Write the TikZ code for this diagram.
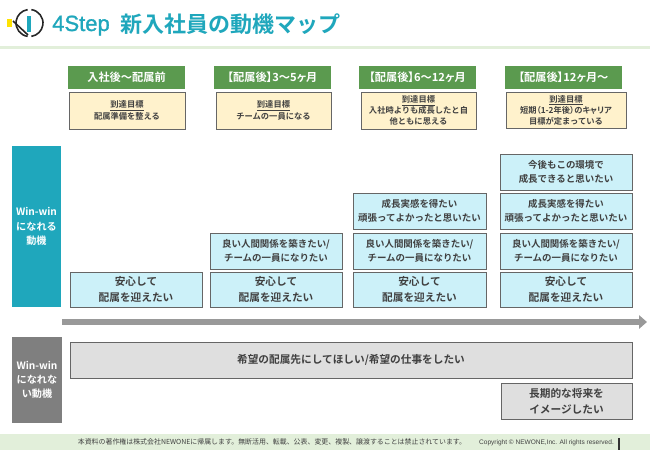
\documentclass[tikz,border=0pt]{standalone}
\usepackage{fontspec}
\setmainfont{Noto Sans CJK JP}[BoldFont={Noto Sans CJK JP Bold}]
\newfontfamily\latinfont{Liberation Sans}
\newfontfamily\ttlfont[FakeBold=1.2]{Liberation Sans}
\usetikzlibrary{arrows.meta}
\definecolor{tealc}{HTML}{1FA7BC}
\definecolor{headg}{HTML}{5B9A4F}
\definecolor{pale}{HTML}{E2EFDA}
\definecolor{yell}{HTML}{FFF2CC}
\definecolor{skyb}{HTML}{CCF1F9}
\definecolor{lgrey}{HTML}{DFDFDF}
\definecolor{mgrey}{HTML}{7F7F7F}
\definecolor{txt}{HTML}{404040}
\definecolor{edge}{HTML}{666666}
\newcommand\fsz[2]{\fontsize{#1}{#2}\selectfont}
\newcommand\pal{\addfontfeature{RawFeature=+palt}}
\newcommand\pbox[7]{\node[#2,minimum width={(#5-#3)*0.75pt},minimum height={(#6-#4)*0.75pt}] (#1) at ({(#3+#5)/2},{(#4+#6)/2}) {#7};}
\tikzset{
  basebox/.style={inner sep=0pt,outer sep=0pt,align=center,text=txt,font=\bfseries},
  headbox/.style={basebox,fill=headg,text=white,font=\bfseries\fsz{8.4}{10}},
  goalbox/.style={basebox,draw=edge,line width=0.75pt,fill=yell,font=\bfseries\fsz{6.2}{8.3}},
  goalwide/.style={goalbox,font=\bfseries\fsz{6.2}{9}},
  wantbig/.style={basebox,draw=edge,line width=0.75pt,fill=skyb,font=\bfseries\fsz{8}{11.4}},
  wantsmall/.style={basebox,draw=edge,line width=0.75pt,fill=skyb,font=\bfseries\fsz{7.1}{10.6}},
  greybox/.style={basebox,draw=edge,line width=0.75pt,fill=lgrey,font=\bfseries\fsz{8}{12}},
  sidebox/.style={basebox,text=white,font=\bfseries\fsz{7.6}{10.6}},
}
\begin{document}
\begin{tikzpicture}[x=0.75pt,y=-0.75pt]
\useasboundingbox (0,0) rectangle (650,450);
\fill[white] (0,0) rectangle (650,450);
% header and footer bands
\fill[pale] (0,46) rectangle (650,49);
\fill[pale] (0,434) rectangle (650,450);
\fill[black!80] (618,438) rectangle (620,450);
% logo
\fill[yellow!85!orange] (7,19) rectangle (12,27);
\draw[black!85,line width=1.2pt] (29.5,23) ++(-82:13.5) arc (-82:82:13.5);
\draw[black!85,line width=1.2pt] (29.5,23) ++(98:13.5) arc (98:262:13.5);
\draw[black!85,line width=1.2pt] (13,21) -- (28,35);
\fill[tealc] (27,16) rectangle (31,32);
% title
\node[anchor=base west,inner sep=0pt,text=tealc,font=\fsz{16.5}{20}] (ttlA) at (52,31) {\ttlfont 4Step};
\node[anchor=west,inner sep=0pt,text=tealc,font=\bfseries\fsz{16.5}{20}] (ttlB) at (120,24) {新入社員の動機マップ};
% column heads
\pbox{h1}{headbox}{68}{66}{185}{89}{入社後～配属前}
\pbox{h2}{headbox}{214}{66}{331}{89}{\pal【配属後】3～5ヶ月}
\pbox{h3}{headbox}{359}{66}{476}{89}{\pal【配属後】6～12ヶ月}
\pbox{h4}{headbox}{505}{66}{622}{89}{\pal【配属後】12ヶ月～}
% goals
\pbox{g1}{goalwide}{69}{92}{185}{129}{\underline{到達目標}\\配属準備を整える}
\pbox{g2}{goalwide}{216}{92}{331}{129}{\underline{到達目標}\\チームの一員になる}
\pbox{g3}{goalbox}{361}{92}{476}{129}{\underline{到達目標}\\入社時よりも成長したと自\\他ともに思える}
\pbox{g4}{goalbox}{506}{92}{626}{128}{\underline{到達目標}\\{\pal 短期（1-2年後）のキャリア}\\目標が定まっている}
% side labels
\pbox{s1}{sidebox,fill=tealc}{12}{146}{61}{307}{Win-win\\になれる\\動機}
\pbox{s2}{sidebox,fill=mgrey}{12}{337}{62}{423}{Win-win\\になれな\\い動機}
% motives
\pbox{a1}{wantbig}{70}{272}{202}{307}{安心して\\配属を迎えたい}
\pbox{a2}{wantbig}{210}{272}{342}{307}{安心して\\配属を迎えたい}
\pbox{a3}{wantbig}{353}{272}{486}{307}{安心して\\配属を迎えたい}
\pbox{a4}{wantbig}{500}{272}{632}{307}{安心して\\配属を迎えたい}
\pbox{b2}{wantsmall}{210}{233}{342}{269}{良い人間関係を築きたい/\\チームの一員になりたい}
\pbox{b3}{wantsmall}{353}{233}{486}{269}{良い人間関係を築きたい/\\チームの一員になりたい}
\pbox{b4}{wantsmall}{500}{233}{632}{269}{良い人間関係を築きたい/\\チームの一員になりたい}
\pbox{c3}{wantsmall}{353}{193}{486}{229}{成長実感を得たい\\頑張ってよかったと思いたい}
\pbox{c4}{wantsmall}{500}{193}{632}{229}{成長実感を得たい\\頑張ってよかったと思いたい}
\pbox{d4}{wantsmall}{500}{154}{632}{190}{今後もこの環境で\\成長できると思いたい}
% arrow
\coordinate (arrS) at (62,322);
\coordinate (arrE) at (647,322);
\draw[color=black!40,line width=5.2pt,-{Triangle[length=6pt,width=10pt]}] (arrS) -- (arrE);
% negative motives
\pbox{n1}{greybox}{70}{342}{632}{378}{希望の配属先にしてほしい/希望の仕事をしたい}
\pbox{n2}{greybox}{501}{383}{632}{419}{長期的な将来を\\イメージしたい}
% footer text
\node[inner sep=0pt,text=txt,font=\fsz{5.2}{6}] (ft1) at (272,442) {本資料の著作権は株式会社NEWONEに帰属します。無断活用、転載、公表、変更、複製、譲渡することは禁止されています。};
\node[inner sep=0pt,text=txt,font=\latinfont\fsz{4.9}{6}] (ft2) at (546.5,443) {Copyright © NEWONE,Inc.  All rights reserved.};
\end{tikzpicture}
\end{document}
